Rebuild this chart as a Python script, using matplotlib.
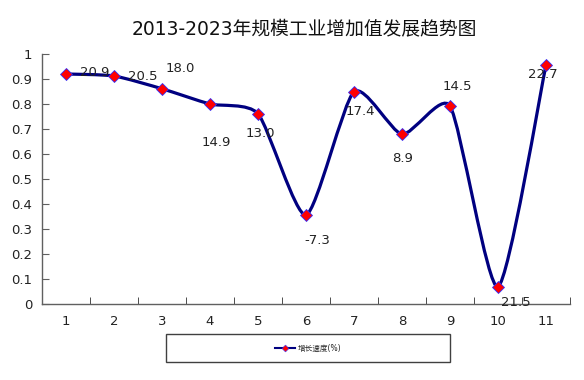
import numpy as np
import matplotlib
matplotlib.use("Agg")
import matplotlib.pyplot as plt
from matplotlib.path import Path
from matplotlib.patches import PathPatch, Rectangle
from matplotlib.lines import Line2D

plt.rcParams['font.family'] = ['DejaVu Sans', 'Noto Sans CJK SC']

# data
categories = ['1', '2', '3', '4', '5', '6', '7', '8', '9', '10', '11']
values = [0.92, 0.912, 0.861, 0.80, 0.761, 0.356, 0.849, 0.679, 0.792, 0.069, 0.956]
point_labels = ['20.9', '20.5', '18.0', '14.9', '13.0', '-7.3', '17.4', '8.9', '14.5', '21.5', '22.7']
series_name = '增长速度(%)'
title = '2013-2023年规模工业增加值发展趋势图'

# where each point label sits relative to its marker (pixels)
label_offsets = [(29, 1), (29, 0), (18, 20), (6, -39), (2, -20), (11, -25),
                 (6, -20), (1, -24), (7, 19), (18, -16), (-3, -10)]

navy = '#000080'
text_col = '#222222'

fig = plt.figure(figsize=(5.84, 3.80), dpi=100)
ax = fig.add_axes([42 / 584, 1 - 304 / 380, (570 - 42) / 584, 250 / 380])
ax.set_xlim(0.5, len(values) + 0.5)
ax.set_ylim(0, 1)

x = np.arange(1, len(values) + 1)
y = np.array(values)

# smoothed line: cardinal spline bezier in screen space with short arms,
# arms also kept below a fraction of the segment they sit on
pts = ax.transData.transform(np.column_stack([x, y]))
n = len(pts)
tension = 0.11
arm_limit = 0.3


def arm(vec, seg_len):
    length = np.hypot(*vec) * tension
    if length > arm_limit * seg_len:
        return vec * tension * (arm_limit * seg_len / length)
    return vec * tension


verts = [pts[0]]
codes = [Path.MOVETO]
for i in range(n - 1):
    p0 = pts[max(i - 1, 0)]
    p1 = pts[i]
    p2 = pts[i + 1]
    p3 = pts[min(i + 2, n - 1)]
    d12 = np.hypot(*(p2 - p1))
    c1 = p1 + arm(p2 - p0, d12)
    c2 = p2 - arm(p3 - p1, d12)
    verts += [c1, c2, p2]
    codes += [Path.CURVE4] * 3
verts = ax.transData.inverted().transform(np.array(verts))
ax.add_patch(PathPatch(Path(verts, codes), facecolor='none', edgecolor=navy, lw=2.3, zorder=2))
ax.plot(x, y, linestyle='none', marker='D', markersize=6, markerfacecolor='red',
        markeredgecolor='#3030ff', markeredgewidth=0.6, zorder=3)

for xi, yi, lab, off in zip(x, y, point_labels, label_offsets):
    ax.annotate(lab, (xi, yi), xytext=off, textcoords='offset pixels',
                ha='center', va='center', fontsize=9.5, color=text_col, zorder=4)

ax.set_yticks(np.arange(0, 1.01, 0.1))
ax.set_yticklabels(['0', '0.1', '0.2', '0.3', '0.4', '0.5', '0.6', '0.7', '0.8', '0.9', '1'])
ax.set_xticks(x)
ax.set_xticklabels(categories)
ax.set_xticks(np.arange(0.5, len(values) + 1), minor=True)

for s in ['top', 'right']:
    ax.spines[s].set_visible(False)
for s in ['left', 'bottom']:
    ax.spines[s].set_color('#606060')
    ax.spines[s].set_linewidth(1.0)

ax.tick_params(axis='y', direction='in', length=5, color='#606060', pad=7,
               labelsize=9.5, labelcolor=text_col)
ax.tick_params(axis='x', which='major', length=0, pad=8, labelsize=9.5, labelcolor=text_col)
ax.tick_params(axis='x', which='minor', direction='in', length=5, color='#303030')

fig.text(304 / 584, 1 - 29 / 380, title, ha='center', va='center', fontsize=13.5,
         color='#111111')

# legend box at the bottom
fig.add_artist(Rectangle((166 / 584, 1 - 362 / 380), (450 - 166) / 584, 28 / 380,
                         transform=fig.transFigure, facecolor='white',
                         edgecolor='#404040', lw=1.0))
handle = Line2D([], [], color=navy, lw=1.5, marker='D', markersize=3.5,
                markerfacecolor='red', markeredgecolor='#3030ff', markeredgewidth=0.4)
fig.legend([handle], [series_name], loc='center',
           bbox_to_anchor=(308 / 584, 1 - 348 / 380), frameon=False,
           fontsize=5.5, handlelength=2.6, handletextpad=0.4, labelcolor=text_col)

fig.savefig('out.png', dpi=100)
